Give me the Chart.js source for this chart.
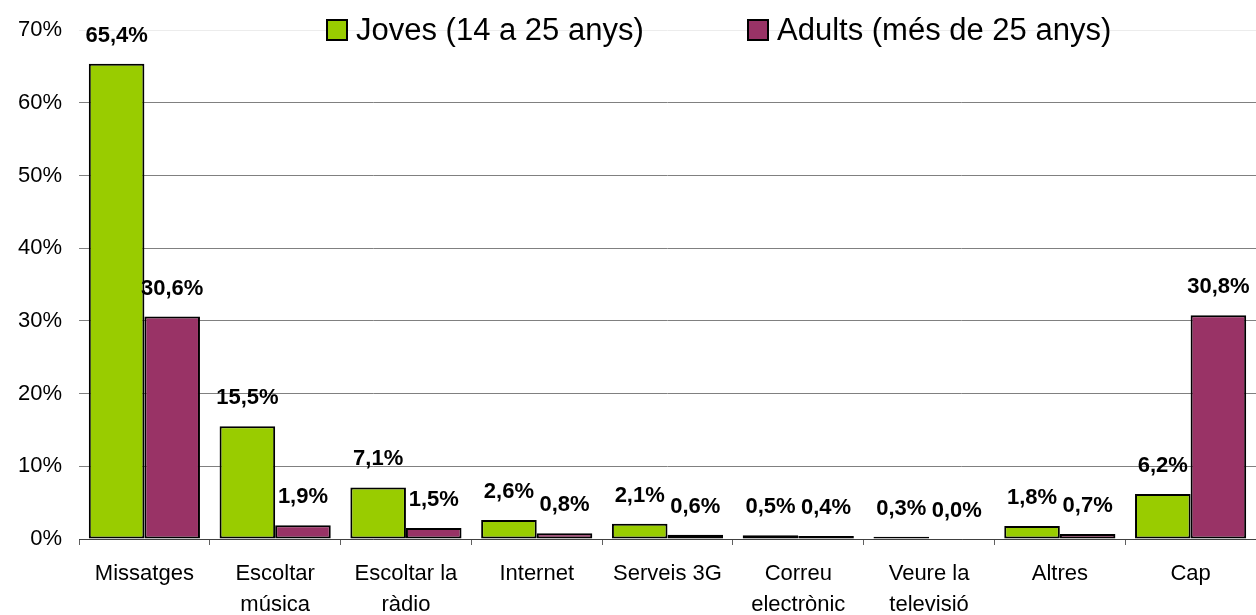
<!DOCTYPE html>
<html lang="ca">
<head>
  <meta charset="UTF-8">
  <title>Ús del mòbil</title>
  <script src="https://cdn.jsdelivr.net/npm/chart.js"></script>
  <style>
    body { margin: 0; background: #fff; }
    #wrap { width: 1256px; height: 615px; position: relative; }
  </style>
</head>
<body>
  <div id="wrap"><canvas id="chart"></canvas></div>
  <script>
    const categories = [
      'Missatges', ['Escoltar', 'música'], ['Escoltar la', 'ràdio'], 'Internet', 'Serveis 3G',
      ['Correu', 'electrònic'], ['Veure la', 'televisió'], 'Altres', 'Cap'
    ];
    const seriesNames = ['Joves (14 a 25 anys)', 'Adults (més de 25 anys)'];
    const joves = [65.4, 15.5, 7.1, 2.6, 2.1, 0.5, 0.3, 1.8, 6.2];
    const adults = [30.6, 1.9, 1.5, 0.8, 0.6, 0.4, 0.0, 0.7, 30.8];
    const yTicks = [0, 10, 20, 30, 40, 50, 60, 70];

    const FONT = "Arial, 'Liberation Sans', sans-serif";
    const fmt = v => v.toFixed(1).replace('.', ',') + '%';

    // etiquetes de valor sobre cada barra
    const valueLabels = {
      id: 'valueLabels',
      afterDatasetsDraw(chart) {
        const ctx = chart.ctx;
        ctx.save();
        ctx.font = 'bold 22px ' + FONT;
        ctx.fillStyle = '#000';
        ctx.textAlign = 'center';
        ctx.textBaseline = 'middle';
        chart.data.datasets.forEach((ds, i) => {
          chart.getDatasetMeta(i).data.forEach((bar, j) => {
            ctx.fillText(fmt(ds.data[j]), bar.x, bar.y - 28);
          });
        });
        ctx.restore();
      }
    };

    // llegenda dibuixada a mà, superposada a l'àrea del gràfic
    const topLegend = {
      id: 'topLegend',
      afterDraw(chart) {
        const ctx = chart.ctx;
        const starts = [327, 748];
        ctx.save();
        ctx.font = '31px ' + FONT;
        ctx.textBaseline = 'middle';
        chart.data.datasets.forEach((ds, i) => {
          const x = starts[i];
          ctx.fillStyle = ds.backgroundColor;
          ctx.fillRect(x, 20, 20, 20);
          ctx.strokeStyle = '#000';
          ctx.lineWidth = 2;
          ctx.strokeRect(x, 20, 20, 20);
          ctx.fillStyle = '#000';
          ctx.fillText(ds.label, x + 29, 31);
        });
        ctx.restore();
      }
    };

    new Chart(document.getElementById('chart'), {
      type: 'bar',
      data: {
        labels: categories,
        datasets: [
          { label: seriesNames[0], data: joves, backgroundColor: '#99CC00', borderColor: '#000', borderWidth: 2, borderSkipped: false },
          { label: seriesNames[1], data: adults, backgroundColor: '#993366', borderColor: '#000', borderWidth: 2, borderSkipped: false }
        ]
      },
      options: {
        responsive: true,
        maintainAspectRatio: false,
        animation: false,
        layout: { padding: { top: 25, right: 0, left: 0, bottom: 0 } },
        datasets: { bar: { barPercentage: 1, categoryPercentage: 0.85 } },
        plugins: { legend: { display: false }, tooltip: { enabled: false } },
        scales: {
          x: {
            grid: { offset: true, drawOnChartArea: false, color: '#606060', tickLength: 6 },
            border: { color: '#404040', width: 1 },
            ticks: { color: '#000', font: { family: FONT, size: 22, lineHeight: 1.4 }, padding: 14, maxRotation: 0, autoSkip: false },
            afterFit(scale) { scale.height = 76; }
          },
          y: {
            min: 0, max: 70,
            afterBuildTicks(scale) { scale.ticks = yTicks.map(v => ({ value: v })); },
            grid: {
              color: ctx => ctx.tick && ctx.tick.value === 70 ? '#ececec' : '#808080',
              drawTicks: false
            },
            border: { display: false },
            ticks: { color: '#000', font: { family: FONT, size: 22 }, padding: 17, callback: v => v + '%' },
            afterFit(scale) { scale.width = 79; }
          }
        }
      },
      plugins: [valueLabels, topLegend]
    });
  </script>
</body>
</html>
